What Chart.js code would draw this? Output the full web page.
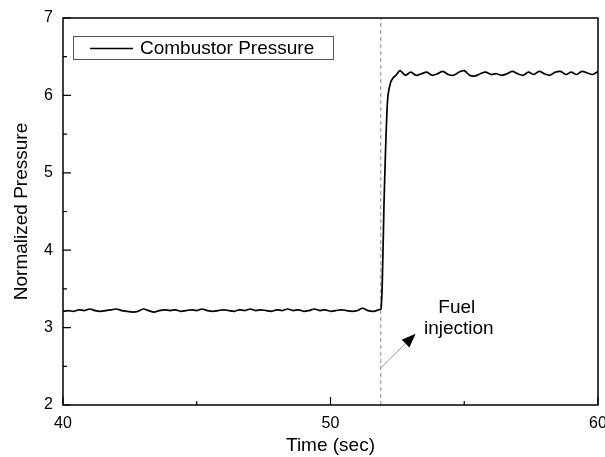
<!DOCTYPE html>
<html>
<head>
<meta charset="utf-8">
<script src="https://cdn.jsdelivr.net/npm/chart.js"></script>
<style>
  html, body { margin: 0; padding: 0; background: #fff; }
  #wrap { width: 605px; height: 457px; position: relative; }
</style>
</head>
<body>
<div id="wrap"><canvas id="pressureChart"></canvas></div>
<script>
// pressure trace
const timeSec = [
  40.0, 40.2, 40.4, 40.6, 40.8, 41.0, 41.2, 41.4, 41.6, 41.8,
  42.0, 42.2, 42.4, 42.6, 42.8, 43.0, 43.2, 43.4, 43.6, 43.8,
  44.0, 44.2, 44.4, 44.6, 44.8, 45.0, 45.2, 45.4, 45.6, 45.8,
  46.0, 46.2, 46.4, 46.6, 46.8, 47.0, 47.2, 47.4, 47.6, 47.8,
  48.0, 48.2, 48.4, 48.6, 48.8, 49.0, 49.2, 49.4, 49.6, 49.8,
  50.0, 50.2, 50.4, 50.6, 50.8, 51.0, 51.2, 51.4, 51.6, 51.8,
  51.89, 51.95, 52.0, 52.05, 52.1, 52.15, 52.25, 52.35, 52.45, 52.6,
  52.8, 53.0, 53.2, 53.4, 53.6, 53.8, 54.0, 54.2, 54.4, 54.6,
  54.8, 55.0, 55.2, 55.4, 55.6, 55.8, 56.0, 56.2, 56.4, 56.6,
  56.8, 57.0, 57.2, 57.4, 57.6, 57.8, 58.0, 58.2, 58.4, 58.6,
  58.8, 59.0, 59.2, 59.4, 59.6, 59.8, 60.0
];
const pressure = [
  3.21, 3.22, 3.21, 3.23, 3.22, 3.24, 3.22, 3.21, 3.22, 3.23,
  3.24, 3.22, 3.21, 3.20, 3.21, 3.24, 3.22, 3.20, 3.22, 3.23,
  3.22, 3.23, 3.21, 3.22, 3.23, 3.22, 3.24, 3.22, 3.21, 3.22,
  3.23, 3.22, 3.21, 3.23, 3.22, 3.24, 3.22, 3.23, 3.22, 3.21,
  3.23, 3.22, 3.24, 3.22, 3.23, 3.21, 3.22, 3.24, 3.22, 3.23,
  3.21, 3.22, 3.23, 3.22, 3.21, 3.22, 3.25, 3.22, 3.21, 3.23,
  3.24, 3.80, 4.60, 5.20, 5.70, 6.00, 6.17, 6.23, 6.26, 6.32,
  6.26, 6.30, 6.26, 6.28, 6.30, 6.26, 6.28, 6.31, 6.27, 6.26,
  6.30, 6.32, 6.26, 6.25, 6.28, 6.30, 6.27, 6.28, 6.26, 6.28,
  6.31, 6.28, 6.26, 6.30, 6.27, 6.31, 6.28, 6.26, 6.30, 6.31,
  6.27, 6.30, 6.27, 6.31, 6.29, 6.27, 6.31
];
const seriesLabel = 'Combustor Pressure';
const injectionTime = 51.88;
const xMajor = [40, 50, 60];
const xMinor = [45, 55];
const yMajor = [2, 3, 4, 5, 6, 7];
const yMinor = [2.5, 3.5, 4.5, 5.5, 6.5];
const noteLines = ['Fuel', 'injection'];
const notePos = [54.72, 3.26];      // centre of first text line
const arrowFrom = [51.88, 2.48];
const arrowTo = [53.18, 2.92];

const FONT = "'Liberation Sans', Arial, sans-serif";

const framePlugin = {
  id: 'frame',
  afterDraw(chart){
    const ctx = chart.ctx;
    const a = chart.chartArea;
    const xs = chart.scales.x, ys = chart.scales.y;
    ctx.save();
    // box
    ctx.strokeStyle = '#000';
    ctx.lineWidth = 1.5;
    ctx.strokeRect(a.left, a.top, a.right - a.left, a.bottom - a.top);
    // inward ticks
    ctx.lineWidth = 1.2;
    ctx.beginPath();
    xMajor.forEach(v => { const p = xs.getPixelForValue(v); ctx.moveTo(p, a.bottom); ctx.lineTo(p, a.bottom - 8); });
    xMinor.forEach(v => { const p = xs.getPixelForValue(v); ctx.moveTo(p, a.bottom); ctx.lineTo(p, a.bottom - 4); });
    yMajor.forEach(v => { const p = ys.getPixelForValue(v); ctx.moveTo(a.left, p); ctx.lineTo(a.left + 8, p); });
    yMinor.forEach(v => { const p = ys.getPixelForValue(v); ctx.moveTo(a.left, p); ctx.lineTo(a.left + 4, p); });
    ctx.stroke();

    // legend box
    ctx.lineWidth = 1;
    ctx.strokeStyle = '#555';
    ctx.strokeRect(a.left + 10.5, a.top + 18.5, 260, 23);
    ctx.strokeStyle = '#000';
    ctx.lineWidth = 1.5;
    ctx.beginPath();
    ctx.moveTo(a.left + 27, a.top + 30.5);
    ctx.lineTo(a.left + 70, a.top + 30.5);
    ctx.stroke();
    ctx.fillStyle = '#000';
    ctx.font = '19px ' + FONT;
    ctx.textBaseline = 'middle';
    ctx.textAlign = 'left';
    ctx.fillText(seriesLabel, a.left + 77, a.top + 31);

    // annotation arrow
    const x0 = xs.getPixelForValue(arrowFrom[0]), y0 = ys.getPixelForValue(arrowFrom[1]);
    const x1 = xs.getPixelForValue(arrowTo[0]), y1 = ys.getPixelForValue(arrowTo[1]);
    const ang = Math.atan2(y1 - y0, x1 - x0);
    const headLen = 14, headW = 5.5;
    const bx = x1 - headLen * Math.cos(ang), by = y1 - headLen * Math.sin(ang);
    ctx.strokeStyle = '#999';
    ctx.lineWidth = 1;
    ctx.beginPath();
    ctx.moveTo(x0, y0);
    ctx.lineTo(bx, by);
    ctx.stroke();
    ctx.fillStyle = '#000';
    ctx.beginPath();
    ctx.moveTo(x1, y1);
    ctx.lineTo(bx + headW * Math.sin(ang), by - headW * Math.cos(ang));
    ctx.lineTo(bx - headW * Math.sin(ang), by + headW * Math.cos(ang));
    ctx.closePath();
    ctx.fill();

    // note text
    ctx.textAlign = 'center';
    const tx = xs.getPixelForValue(notePos[0]), ty = ys.getPixelForValue(notePos[1]);
    noteLines.forEach((s, i) => ctx.fillText(s, tx + i * 2, ty + i * 21));
    ctx.restore();
  }
};

new Chart(document.getElementById('pressureChart'), {
  type: 'line',
  data: {
    datasets: [
      {
        label: seriesLabel,
        data: timeSec.map((t, i) => ({ x: t, y: pressure[i] })),
        borderColor: '#000',
        borderWidth: 1.7,
        pointRadius: 0,
        tension: 0.3,
        fill: false
      },
      {
        label: 'injection',
        data: [{ x: injectionTime, y: 2 }, { x: injectionTime, y: 7 }],
        borderColor: '#8a8a8a',
        borderWidth: 1,
        borderDash: [4, 3],
        pointRadius: 0,
        fill: false
      }
    ]
  },
  options: {
    responsive: true,
    maintainAspectRatio: false,
    animation: false,
    layout: { padding: { top: 18, right: 7, left: 0, bottom: 0 } },
    plugins: { legend: { display: false }, tooltip: { enabled: false } },
    scales: {
      x: {
        type: 'linear', min: 40, max: 60,
        grid: { display: false, drawTicks: false },
        border: { display: false },
        ticks: { stepSize: 10, padding: 9, color: '#000', font: { family: FONT, size: 16 }, maxRotation: 0 },
        title: { display: true, text: 'Time (sec)', color: '#000', font: { family: FONT, size: 19 }, padding: { top: 0, bottom: 0 } },
        afterFit(s){ s.height = 52; s.paddingLeft = 0; s.paddingRight = 0; }
      },
      y: {
        type: 'linear', min: 2, max: 7,
        grid: { display: false, drawTicks: false },
        border: { display: false },
        ticks: { stepSize: 1, padding: 10, color: '#000', font: { family: FONT, size: 16 } },
        title: { display: true, text: 'Normalized Pressure', color: '#000', font: { family: FONT, size: 19 }, padding: { top: 10, bottom: 0 } },
        afterFit(s){ s.width = 63; s.paddingTop = 0; s.paddingBottom = 0; }
      }
    }
  },
  plugins: [framePlugin]
});
</script>
</body>
</html>
